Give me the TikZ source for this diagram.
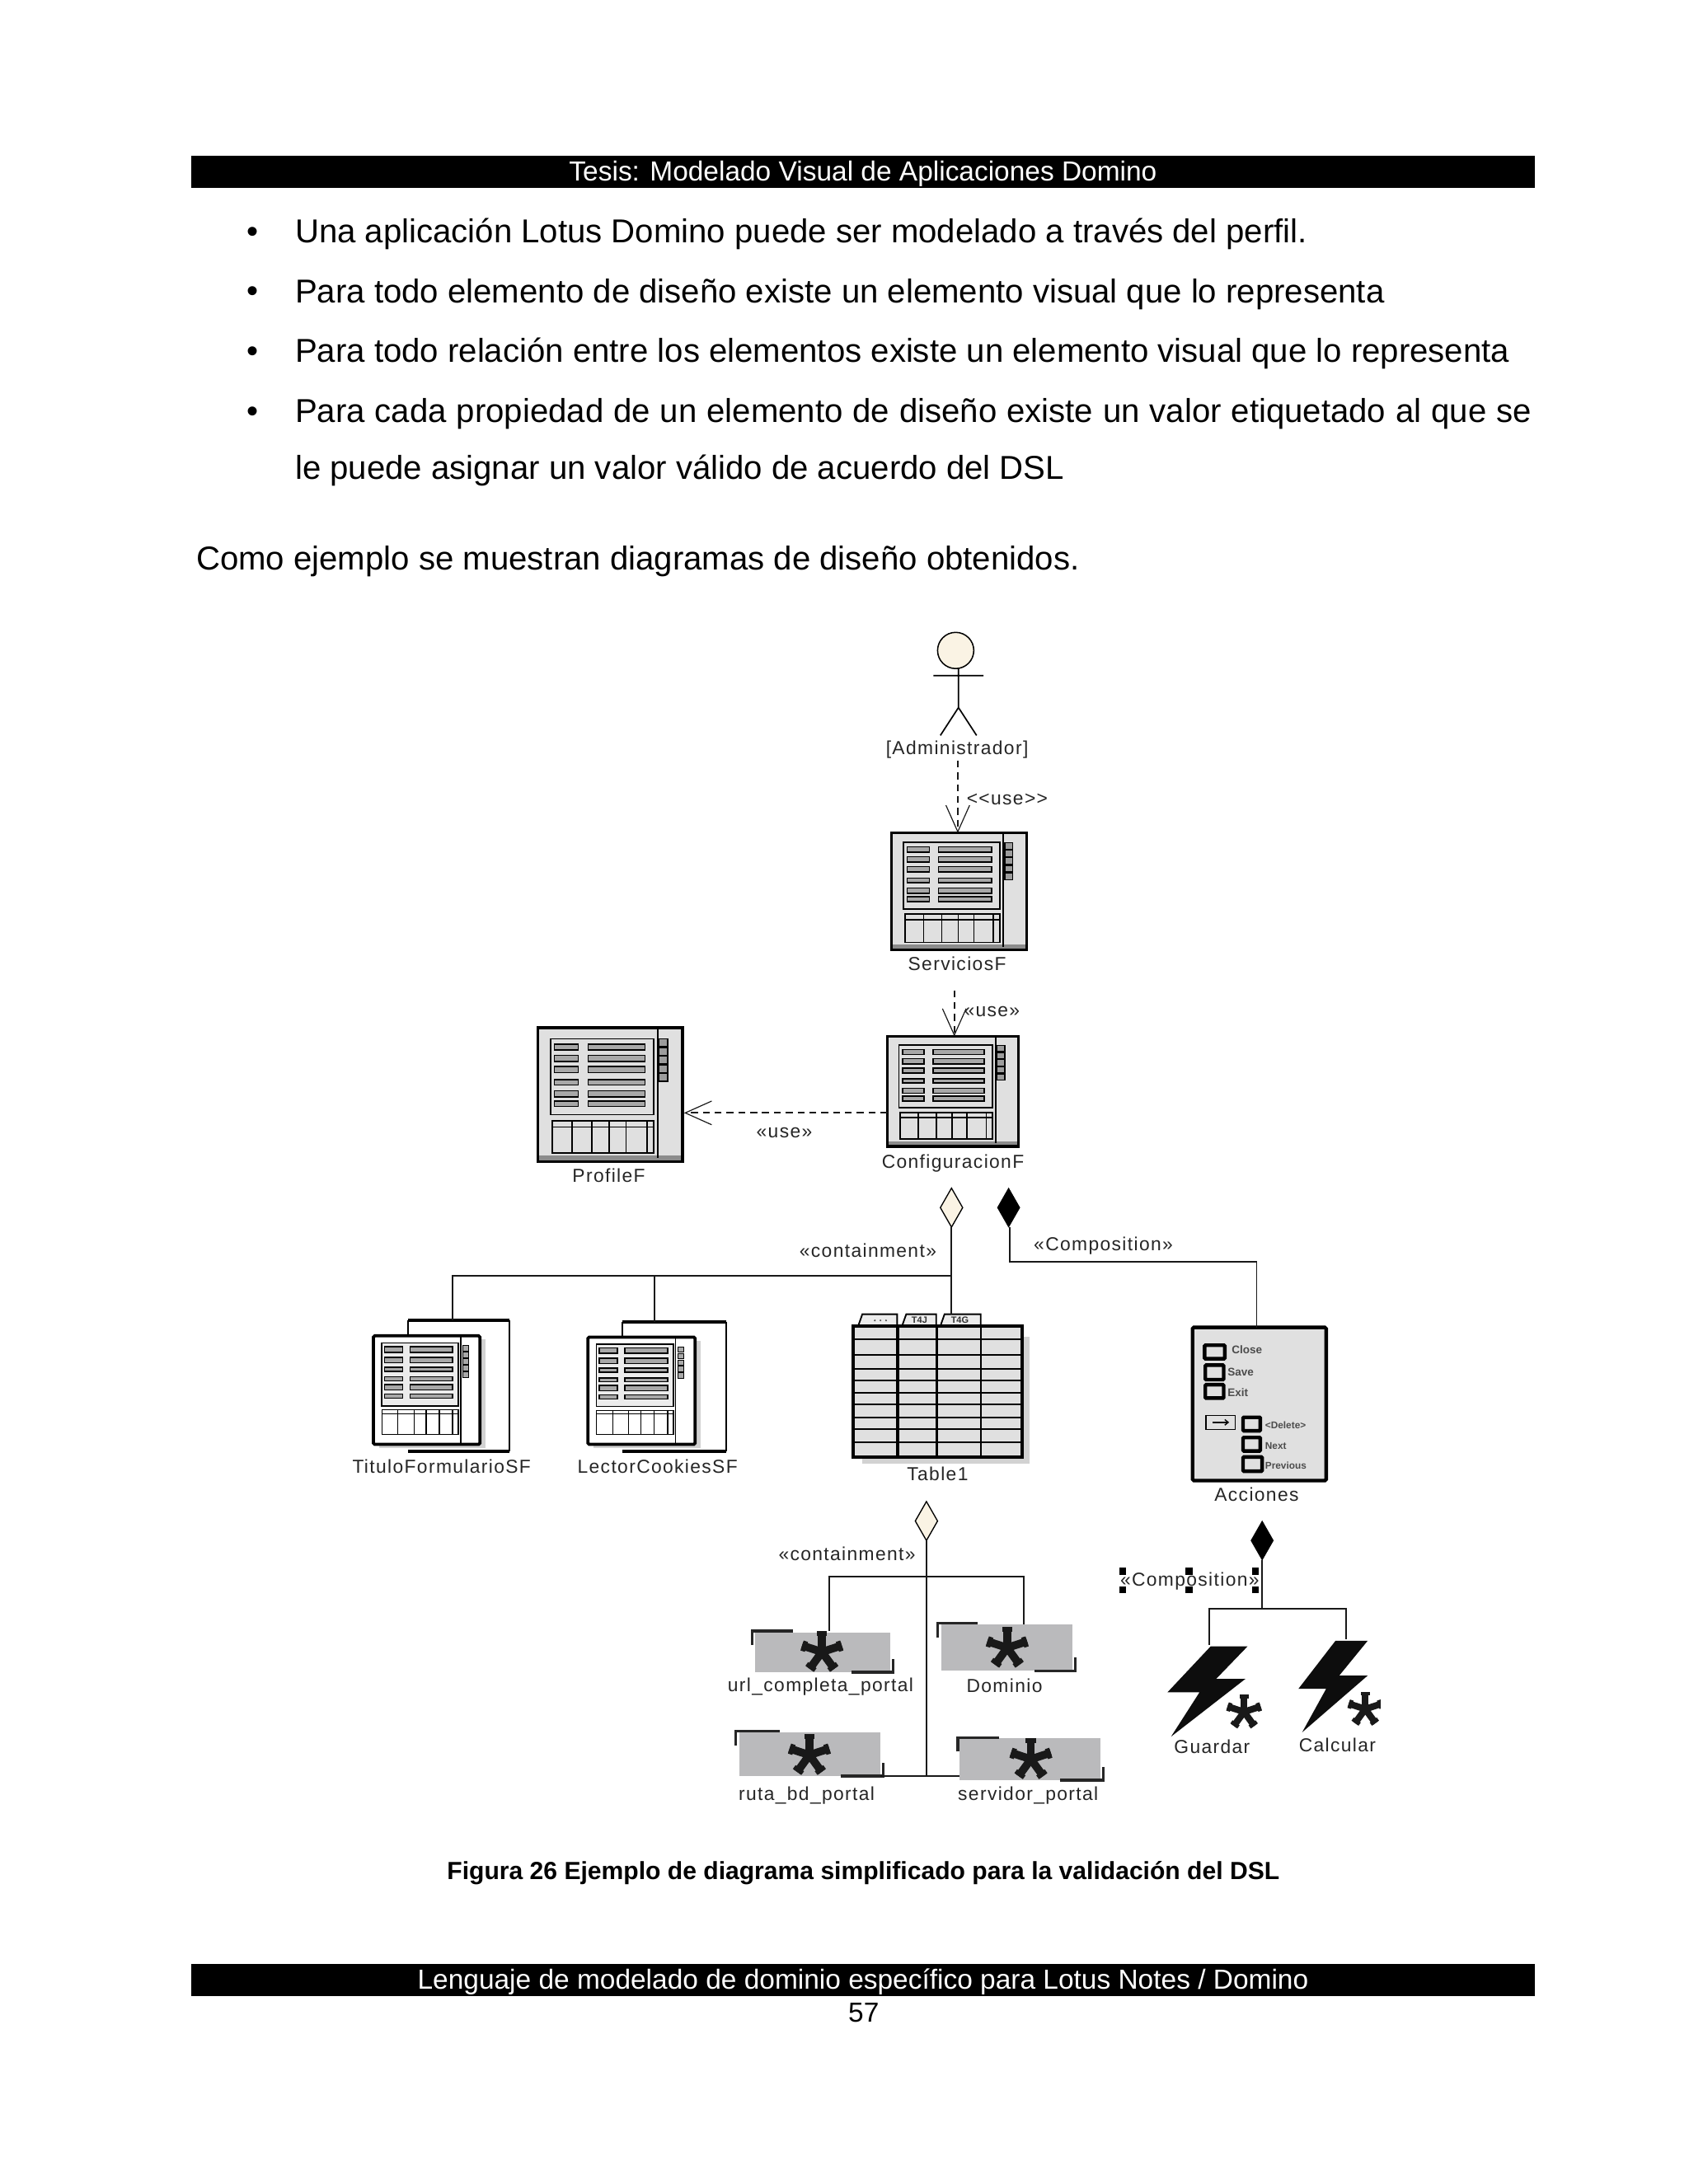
\documentclass[tikz,border=0pt]{standalone}
\usepackage{fontspec}
\setmainfont{Liberation Sans}
\newfontfamily\dg[LetterSpace=6]{Liberation Sans}
\usetikzlibrary{shapes.geometric,arrows.meta}
\definecolor{formgray}{HTML}{E0E0E0}
\definecolor{bargray}{HTML}{A8A8A8}
\definecolor{entgray}{HTML}{BABABC}
\definecolor{shadowgray}{HTML}{D2D2D2}
\definecolor{cream}{HTML}{FAF3E4}
\tikzset{
  body/.style={anchor=base west,inner sep=0,font=\fontsize{23.76}{26}\selectfont},
  barbox/.style={fill=black,text=white,inner sep=0,font=\fontsize{19.8}{22}\selectfont},
  lbl/.style={inner sep=0,font=\dg\fontsize{13.5}{15}\selectfont,text=black!85},
  tiny/.style={inner sep=0,font=\bfseries\fontsize{6.5}{8}\selectfont,text=black!80},
  acct/.style={inner sep=0,anchor=west,text=black!70,font=\bfseries\fontsize{8}{9}\selectfont},
  hit/.style={inner sep=0,outer sep=0},
  conn/.style={line width=1.1pt,black!90},
  dep/.style={line width=1.1pt,dash pattern=on 5pt off 3.5pt,black!90,-{Straight Barb[length=19pt,width=17pt,line width=.7pt]}},
  opend/.style={diamond,draw=black,line width=.8pt,fill=cream,minimum width=16pt,minimum height=28pt,inner sep=0,outer sep=0},
  filld/.style={diamond,draw=black,fill=black,minimum width=16pt,minimum height=28pt,inner sep=0,outer sep=0},
  cell/.style={draw=black,line width=.9pt,fill=bargray},
  chk/.style={draw=black,line width=2.6pt,fill=formgray,rounded corners=.6pt},
}
\newcommand\place[5]{\node[hit,minimum width={(#4-#2)*1pt},minimum height={(#5-#3)*1pt}] (#1) at ({(#2+#4)/2},{(#3+#5)/2}) {};}
\newcommand\formicon[5]{%
  \place{#1}{#2}{#3}{#4}{#5}
  \begin{scope}[shift={(#2,#3)},xscale={(#4-#2)/365},yscale={(#5-#3)/308}]
    \fill[formgray] (0,0) rectangle (365,308);
    \fill[black!45] (0,294) rectangle (365,308);
    \draw[line width=1pt] (302,0) -- (302,300);
    \draw[line width=1pt,fill=formgray] (32,25) rectangle (292,200);
    \foreach \ya/\yb in {37/51,63/77,89/103,119/131,145/159,168/181}{
      \draw[cell] (42,\ya) rectangle (102,\yb);
      \draw[cell] (127,\ya) rectangle (270,\yb);
    }
    \foreach \ya in {25,45,65,85,105}{\draw[line width=.8pt,fill=formgray!70!black] (306,\ya) rectangle (327,\ya+18);}
    \draw[line width=1pt] (36,214) rectangle (292,288) (36,228) -- (292,228);
    \foreach \xa in {86,136,180,222,275}{\draw[line width=.9pt] (\xa,214) -- (\xa,288);}
    \draw[line width=2.1pt] (0,308) -- (0,0) -- (365,0) -- (365,308) -- cycle;
  \end{scope}}
\newcommand\subform[9]{%
  \place{#1}{#2}{#3}{#4}{#5}
  \draw[line width=1.2pt] (#2,#3) -- (#2,#7);
  \draw[line width=1.2pt] (#4,#3) -- (#4,#5);
  \draw[line width=2.6pt] (#2,#3) -- (#4,#3) (#2,#5) -- (#4,#5);
  \begin{scope}[shift={(#6,#7)},xscale={(#8-#6)/226},yscale={(#9-#7)/396}]
    \fill[shadowgray] (12,14) rectangle (238,410);
    \fill[white] (0,0) rectangle (226,396);
    \draw[line width=.9pt,fill=formgray!60] (18,26) rectangle (180,256);
    \draw[line width=.9pt] (185,0) -- (185,396);
    \foreach \ya/\yb in {40/60,78/98,115/130,150/165,178/198,213/228}{
      \draw[cell] (24,\ya) rectangle (62,\yb);
      \draw[cell] (78,\ya) rectangle (168,\yb);
    }
    \foreach \ya in {36,60,84,108,132}{\draw[line width=.6pt,fill=bargray] (190,\ya) rectangle (202,\ya+20);}
    \draw[line width=.8pt] (18,270) rectangle (180,360) (18,284) -- (180,284);
    \foreach \xa in {52,86,112,140,168}{\draw[line width=.7pt] (\xa,270) -- (\xa,360);}
    \draw[line width=2.2pt,rounded corners=1pt] (0,0) rectangle (226,396);
  \end{scope}}
\newcommand\aster[3]{%
  \foreach \ang in {-90,-18,-162,54,126}{
    \draw[line width={#3*.38pt},black!90] (#1,#2) -- ++(\ang:#3);
    \draw[line width={#3*.50pt},black!90] (#1,#2) ++(\ang:{#3*.78}) -- ++(\ang:{#3*.22});}
}
\newcommand\entity[9]{%
  \place{#1}{#2}{#3}{#4}{#5}
  \fill[entgray] (#2,#3) rectangle (#4,#5);
  \draw[line width=2pt,black!85] (#6,{#7+10}) -- (#6,#7) -- (#8,#7);
  \draw[line width=2pt,black!85] (#9,#5) -- ({#4+2},#5) -- ({#4+2},{#5-9.5});
}
\begin{document}
\begin{tikzpicture}[x=1pt,y=-1pt]
\useasboundingbox (0,0) rectangle (1212,1568);
\fill[white] (0,0) rectangle (1212,1568);

\node[barbox,minimum width=965pt,minimum height=23pt,text depth=4pt,text height=17pt] (hdr) at (619.5,123.5) {Tesis: Modelado Visual de Aplicaciones Domino};
\node[barbox,minimum width=965pt,minimum height=23pt,text depth=4pt,text height=17pt] (ftr) at (619.5,1421.5) {Lenguaje de modelado de dominio específico para Lotus Notes / Domino};
\node[inner sep=0,font=\fontsize{19.8}{22}\selectfont] (pg) at (620,1445) {57};
\foreach \yy/\nm in {174/b1,217/b2,260/b3,303/b4}{\node[body,anchor=base] (\nm) at (181.5,\yy) {•};}
\node[body] (t1) at (211.7,174.5) {Una aplicación Lotus Domino puede ser modelado a través del perfil.};
\node[body] (t2) at (211.7,217.5) {Para todo elemento de diseño existe un elemento visual que lo representa};
\node[body] (t3) at (211.7,260) {Para todo relación entre los elementos existe un elemento visual que lo representa};
\node[body] (t4) at (211.7,303) {\makebox[887.5pt][s]{Para cada propiedad de un elemento de diseño existe un valor etiquetado al que se}};
\node[body] (t5) at (211.7,344) {le puede asignar un valor válido de acuerdo del DSL};
\node[body] (t6) at (140.7,409) {Como ejemplo se muestran diagramas de diseño obtenidos.};
\node[inner sep=0,font=\bfseries\fontsize{17.8}{20}\selectfont] (cap) at (619.7,1344.5) {Figura 26 Ejemplo de diagrama simplificado para la validación del DSL};

\node[circle,draw=black,line width=.9pt,fill=cream,minimum size=26pt,inner sep=0,outer sep=0] (head) at (686,467) {};
\coordinate (hip) at (688,508);
\draw[line width=1pt] (head.south -| hip) -- (hip) (670,485) -- (706,485) (675,528) -- (hip) -- (701,528);
\node[lbl] (lAdm) at (687,538) {[Administrador]};

\formicon{srv}{640}{598}{737}{682}
\node[lbl] (lSrv) at (687,692) {ServiciosF};
\formicon{cfg}{637}{744}{731}{823}
\node[lbl] (lCfg) at (684,835) {ConfiguracionF};
\formicon{prof}{386}{738}{490}{834}
\node[lbl] (lProf) at (437,844) {ProfileF};

\coordinate (c1) at (687.5,546);
\coordinate (c2) at (685,711);
\coordinate (c3) at (637,799);
\coordinate (c3t) at (491,799);
\draw[dep] (c1) -- (c1 |- srv.north);
\node[lbl] (lu1) at (723,574) {<{}<use>{}>};
\draw[dep] (c2) -- (c2 |- cfg.north);
\node[lbl] (lu2) at (712,726) {«use»};
\draw[dep] (c3) -- (c3t);
\node[lbl] (lu3) at (563,813) {«use»};

\subform{tit}{293}{948}{365.5}{1042}{268}{959}{344.5}{1037}
\node[lbl] (lTit) at (317,1053) {TituloFormularioSF};
\subform{lec}{447}{949}{521}{1042}{422}{960}{499}{1037}
\node[lbl] (lLec) at (472,1053) {LectorCookiesSF};

\place{tab}{612.5}{943}{733.5}{1046}
\fill[shadowgray] (619,960) rectangle (739,1051);
\fill[formgray] (612.5,952) rectangle (733.5,1046);
\foreach \xa/\xb in {616/644,647.5/672,675/704}{
  \draw[line width=1.1pt,fill=formgray!60] (\xa,952) -- ({\xa+3},943.5) -- (\xb,943.5) -- (\xb,952);
}
\foreach \yy in {961.5,972.6,982.7,991.2,999.7,1008,1017.8,1026,1035.5}{\draw[line width=1.2pt] (612.5,\yy) -- (733.5,\yy);}
\draw[line width=2.2pt] (644.5,952) -- (644.5,1046) (672.5,952) -- (672.5,1046);
\draw[line width=1.2pt] (704,952) -- (704,1046);
\draw[line width=2.4pt] (612.5,952) rectangle (733.5,1046);
\node[tiny] (tb2) at (660,948) {T4J};
\node[tiny] (tb3) at (689,948) {T4G};
\foreach \xx in {628,632,636}{\fill[black!70] (\xx,948) circle (.7pt);}
\node[lbl] (lTab) at (673,1058) {Table1};

\place{acc}{856}{953}{952}{1063}
\begin{scope}[shift={(856,953)},xscale={96/365},yscale={110/455}]
  \fill[formgray] (0,0) rectangle (365,455);
  \draw[line width=2.6pt,rounded corners=1pt] (0,0) rectangle (365,455);
  \foreach \xa/\ya/\xb/\yb in {33/53/88/93,35/112/85/155,35/170/85/210,138/267/185/307,138/327/185/367,138/385/190/427}{
    \draw[chk] (\xa,\ya) rectangle (\xb,\yb);}
  \draw[line width=.9pt] (37,262) rectangle (117,303);
  \draw[line width=.8pt,-{Straight Barb[length=2.5pt,width=4pt]}] (55,282) -- (100,282);
\end{scope}
\node[acct] (a1) at (884,969) {Close};
\node[acct] (a2) at (881,985) {Save};
\node[acct] (a3) at (881,1000) {Exit};
\node[acct,font=\bfseries\fontsize{7}{8}\selectfont] (a4) at (908,1023) {<Delete>};
\node[acct,font=\bfseries\fontsize{7}{8}\selectfont] (a5) at (908,1038) {Next};
\node[acct,font=\bfseries\fontsize{7}{8}\selectfont] (a6) at (908,1052) {Previous};
\node[lbl] (lAcc) at (902,1073) {Acciones};

\node[opend] (d1) at (683,867) {};
\node[filld] (d2) at (724,867) {};
\coordinate (j1) at (683,916);
\draw[conn] (d1.south) -- (j1) -- (683,943.5);
\draw[conn] (j1) -- (325,916) -- (325,948);
\draw[conn] (470,916) -- (470,949);
\node[lbl] (lc1) at (623,898) {«containment»};
\coordinate (j2a) at (725,906);
\coordinate (j2b) at (902,906);
\draw[conn] (d2.south -| j2a) -- (j2a) -- (j2b) -- (j2b |- acc.north);
\node[lbl] (lc2) at (792,894.5) {«Composition»};

\node[opend] (d3) at (665,1092) {};
\coordinate (j3) at (665,1132);
\coordinate (j4) at (665,1275);
\draw[conn] (d3.south) -- (j4);
\draw[conn] (595,1171) -- (595,1132) -- (735,1132) -- (735,1166);
\node[lbl] (lc3) at (608,1115.5) {«containment»};
\entity{eu}{542}{1172}{639}{1200.5}{540}{1171}{569}{611}
\aster{590}{1186}{15}
\node[lbl] (lEu) at (589,1211) {url\_completa\_portal};
\entity{ed}{675.5}{1166}{770}{1199.5}{673}{1165.5}{702}{742.5}
\aster{723}{1183}{15}
\node[lbl] (lEd) at (721,1210) {Dominio};
\entity{er}{530.5}{1244}{632}{1275}{528}{1243}{560}{603.5}
\aster{581}{1260}{15}
\node[lbl] (lEr) at (579,1289) {ruta\_bd\_portal};
\entity{es}{689}{1248}{790}{1278}{687.5}{1247.5}{717}{761}
\aster{740}{1263}{15}
\node[lbl] (lEs) at (738,1289) {servidor\_portal};
\draw[conn] (er.east |- j4) -- (j4) -- (es.west |- j4);

\node[filld] (d4) at (906,1106) {};
\coordinate (j5) at (906,1155);
\coordinate (b1t) at (868,1181);
\coordinate (b2t) at (966,1177);
\draw[conn] (d4.south) -- (j5);
\draw[conn] (b1t) -- (868,1155) -- (966,1155) -- (b2t);
\node[lbl] (lc4) at (854,1135) {«Composition»};
\foreach \xx in {806,853.5,901}{\foreach \yy in {1128,1141.5}{\fill[black] ({\xx-2.5},{\yy-2.5}) rectangle ({\xx+2.5},{\yy+2.5});}}
\place{bo1}{838}{1182}{896}{1247}
\fill[black!95] (869,1182) -- (895.5,1182) -- (873,1205.3) -- (894,1205.3) -- (840.6,1246.8) -- (861,1215) -- (838,1215) -- cycle;
\aster{893}{1229}{12.5}
\node[lbl] (lBo1) at (870,1254) {Guardar};
\place{bo2}{932}{1178}{982}{1244}
\fill[black!95] (958.6,1178) -- (981.7,1178) -- (961.3,1203) -- (981.7,1203) -- (934.7,1243.7) -- (951.9,1212.5) -- (932,1212.5) -- cycle;
\begin{scope}
  \clip (960,1210) rectangle (991,1245);
  \aster{980}{1227}{12.5}
\end{scope}
\node[lbl] (lBo2) at (960,1253) {Calcular};
\end{tikzpicture}
\end{document}
